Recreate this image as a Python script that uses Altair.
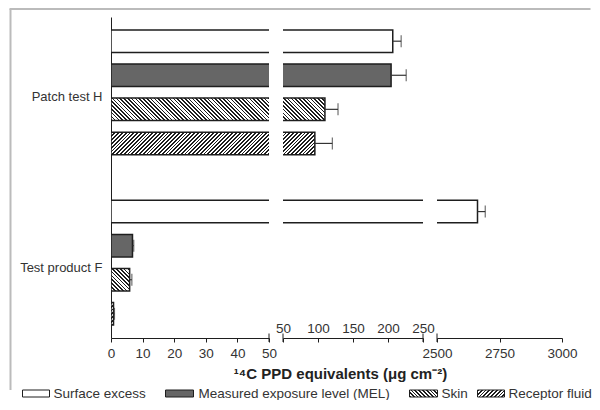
import altair as alt
import pandas as pd

# ---------------- data ----------------
groups = ["Patch test H", "Test product F"]
series = ["Surface excess", "Measured exposure level (MEL)", "Skin", "Receptor fluid"]
values_H = [206.8, 204.4, 109.9, 95.5]
errors_H = [12.0, 21.6, 18.7, 25.0]
values_F = [2662.0, 6.8, 5.9, 0.8]
errors_F = [31.0, 0.4, 0.7, 0.3]

seg_domains = [[0, 50], [50, 250], [2500, 3000]]
seg_ticks = [[0, 10, 20, 30, 40, 50], [50, 100, 150, 200, 250], [2500, 2750, 3000]]
seg_caps = [[50], [50, 250], [2500]]
x_title = "\u00b9\u2074C PPD equivalents (\u03bcg cm\u207b\u00b2)"

# ---------------- style ----------------
FONT = "Liberation Sans"
FS = 13.5
SEG_W = [158, 140, 125]
PLOT_H = 321
SPACING = 14
PAD_IN, PAD_OUT = 0.34, 0.38
STROKE = "#1e1e1e"
MEL_FILL = "#666666"
TXT = "#333333"
HATCH_P, HATCH_F = 3.8, 0.45
OX, OY = 109.5, 17.0  # page position of plot origin (for decorations)


def px(x):
    return x - OX


def py(y):
    return y - OY


rows = []
slot_order = []
for g, vals, errs in [(groups[0], values_H, errors_H), (groups[1], values_F, errors_F)]:
    if slot_order:
        slot_order.append("gap")
    for s, v, e in zip(series, vals, errs):
        slot = f"{g}|{s}"
        slot_order.append(slot)
        rows.append({"group": g, "series": s, "value": v, "err": e, "slot": slot})
df = pd.DataFrame(rows)
df["hi"] = df["value"] + df["err"]

step = PLOT_H / (len(slot_order) - PAD_IN + 2 * PAD_OUT)
BW = step * (1 - PAD_IN)


def hatch(W, H, kind):
    total = W + H
    s = total / (W + H * H / W)
    stops = []
    k = 0
    while k * HATCH_P < total:
        a = k * HATCH_P / total
        b = min((k * HATCH_P + HATCH_F * HATCH_P) / total, 1.0)
        c = min((k + 1) * HATCH_P / total, 1.0)
        stops += [
            {"offset": round(a, 5), "color": STROKE},
            {"offset": round(b, 5), "color": STROKE},
            {"offset": round(b, 5), "color": "#ffffff"},
            {"offset": round(c, 5), "color": "#ffffff"},
        ]
        k += 1
    if kind == "/":
        coords = dict(x1=0, y1=0, x2=s, y2=s * H / W)
    else:
        coords = dict(x1=0, y1=1, x2=s, y2=1 - s * H / W)
    return {"gradient": "linear", "stops": stops, **coords}


hatch_kind = {"Skin": "\\", "Receptor fluid": "/"}

label_expr = (
    "split(datum.value, '|')[1] == 'Measured exposure level (MEL)' ? "
    "split(datum.value, '|')[0] : ''"
)


def yenc(first):
    if first:
        ax = alt.Axis(title=None, ticks=False, domain=True, domainColor=STROKE,
                      domainWidth=1, labelExpr=label_expr, labelOffset=22,
                      labelPadding=9, labelFontSize=13, labelColor=TXT,
                      labelLimit=300, labelFont=FONT)
    else:
        ax = None
    return alt.Y("slot:N", sort=slot_order,
                 scale=alt.Scale(domain=slot_order, paddingInner=PAD_IN,
                                 paddingOuter=PAD_OUT), axis=ax)


def xaxis(i):
    kw = dict(values=seg_ticks[i], title=None, grid=False, tickSize=4,
              tickColor=STROKE, domainColor=STROKE, domainWidth=1, tickWidth=1,
              labelFlush=False, labelOverlap=False, labelFontSize=FS,
              labelColor=TXT, labelFont=FONT, format="d", labelBound=False)
    if i == 1:
        kw.update(labelPadding=-9.5, labelBaseline="alphabetic")
    else:
        kw.update(labelPadding=4.5)
    return alt.Axis(**kw)


def xenc(i, field):
    return alt.X(f"{field}:Q",
                 scale=alt.Scale(domain=seg_domains[i], nice=False, zero=False),
                 axis=xaxis(i))


one = pd.DataFrame({"k": [0]})


def segment(i):
    first = i == 0
    layers = []
    solid = (
        alt.Chart(df)
        .transform_filter(alt.FieldOneOfPredicate(field="series", oneOf=series[:2]))
        .mark_bar(stroke=STROKE, strokeWidth=1.5, clip=True)
        .encode(
            x=xenc(i, "value"),
            x2=alt.datum(0),
            y=yenc(first),
            fill=alt.Fill("series:N", scale=alt.Scale(domain=series[:2],
                          range=["#ffffff", MEL_FILL]), legend=None),
        )
    )
    layers.append(solid)
    dmin, dmax = seg_domains[i]
    for r in rows:
        if r["series"] not in hatch_kind or r["value"] <= dmin:
            continue
        W = r["value"] * SEG_W[i] / (dmax - dmin)
        layers.append(
            alt.Chart(df)
            .transform_filter(alt.datum.slot == r["slot"])
            .mark_bar(fill=hatch(W, BW, hatch_kind[r["series"]]), stroke=STROKE,
                      strokeWidth=1.5, clip=True)
            .encode(x=xenc(i, "value"), x2=alt.datum(0), y=yenc(first))
        )
    layers.append(
        alt.Chart(df).mark_rule(color="#333333", strokeWidth=1.2, clip=True)
        .encode(x=xenc(i, "value"), x2=alt.X2("hi:Q"), y=yenc(first))
    )
    layers.append(
        alt.Chart(df).mark_tick(color="#333333", thickness=1.2, size=12,
                                orient="vertical", clip=True)
        .encode(x=xenc(i, "hi"), y=yenc(first))
    )
    caps = pd.DataFrame({"v": seg_caps[i]})
    layers.append(
        alt.Chart(caps).mark_rule(color=STROKE, strokeWidth=1)
        .encode(x=xenc(i, "v"), y=alt.value(PLOT_H - 4.5), y2=alt.value(PLOT_H + 4))
    )
    if first:
        # frame
        layers.append(
            alt.Chart(one).mark_rule(color="#bbbbbb", strokeWidth=2)
            .encode(x=alt.value(-100.5), y=alt.value(-8), y2=alt.value(py(390)))
        )
        layers.append(
            alt.Chart(one).mark_rule(color="#bbbbbb", strokeWidth=2)
            .encode(x=alt.value(-101.5), x2=alt.value(px(589)), y=alt.value(-8))
        )
        # x title
        layers.append(
            alt.Chart(one).mark_text(text=x_title, fontWeight="bold", fontSize=15,
                                     align="center", baseline="middle",
                                     color="#222222", font=FONT)
            .encode(x=alt.value(px(339)), y=alt.value(py(373.5)))
        )
        # legend
        leg = [(series[0], 21, 48, 52), (series[1], 164, 192, 197),
               (series[2], 408, 436, 440), (series[3], 476, 503, 507)]
        for name, a, b, t in leg:
            if name in hatch_kind:
                fill = hatch(b - a, 7, hatch_kind[name])
            elif name == series[1]:
                fill = MEL_FILL
            else:
                fill = "#ffffff"
            layers.append(
                alt.Chart(one).mark_rect(fill=fill, stroke=STROKE, strokeWidth=1)
                .encode(x=alt.value(px(a)), x2=alt.value(px(b)),
                        y=alt.value(py(390)), y2=alt.value(py(397)))
            )
            layers.append(
                alt.Chart(one).mark_text(text=name, align="left", baseline="middle",
                                         fontSize=FS, color=TXT, font=FONT)
                .encode(x=alt.value(px(t)), y=alt.value(py(393.5)))
            )
    return alt.layer(*layers).properties(width=SEG_W[i], height=PLOT_H)


chart = (
    alt.hconcat(*[segment(i) for i in range(3)], spacing=SPACING, bounds="flush")
    .properties(padding=0)
    .configure(font=FONT)
    .configure_view(strokeWidth=0, stroke="transparent")
)

chart.save("out.html", embed_options={"renderer": "svg", "actions": False})
